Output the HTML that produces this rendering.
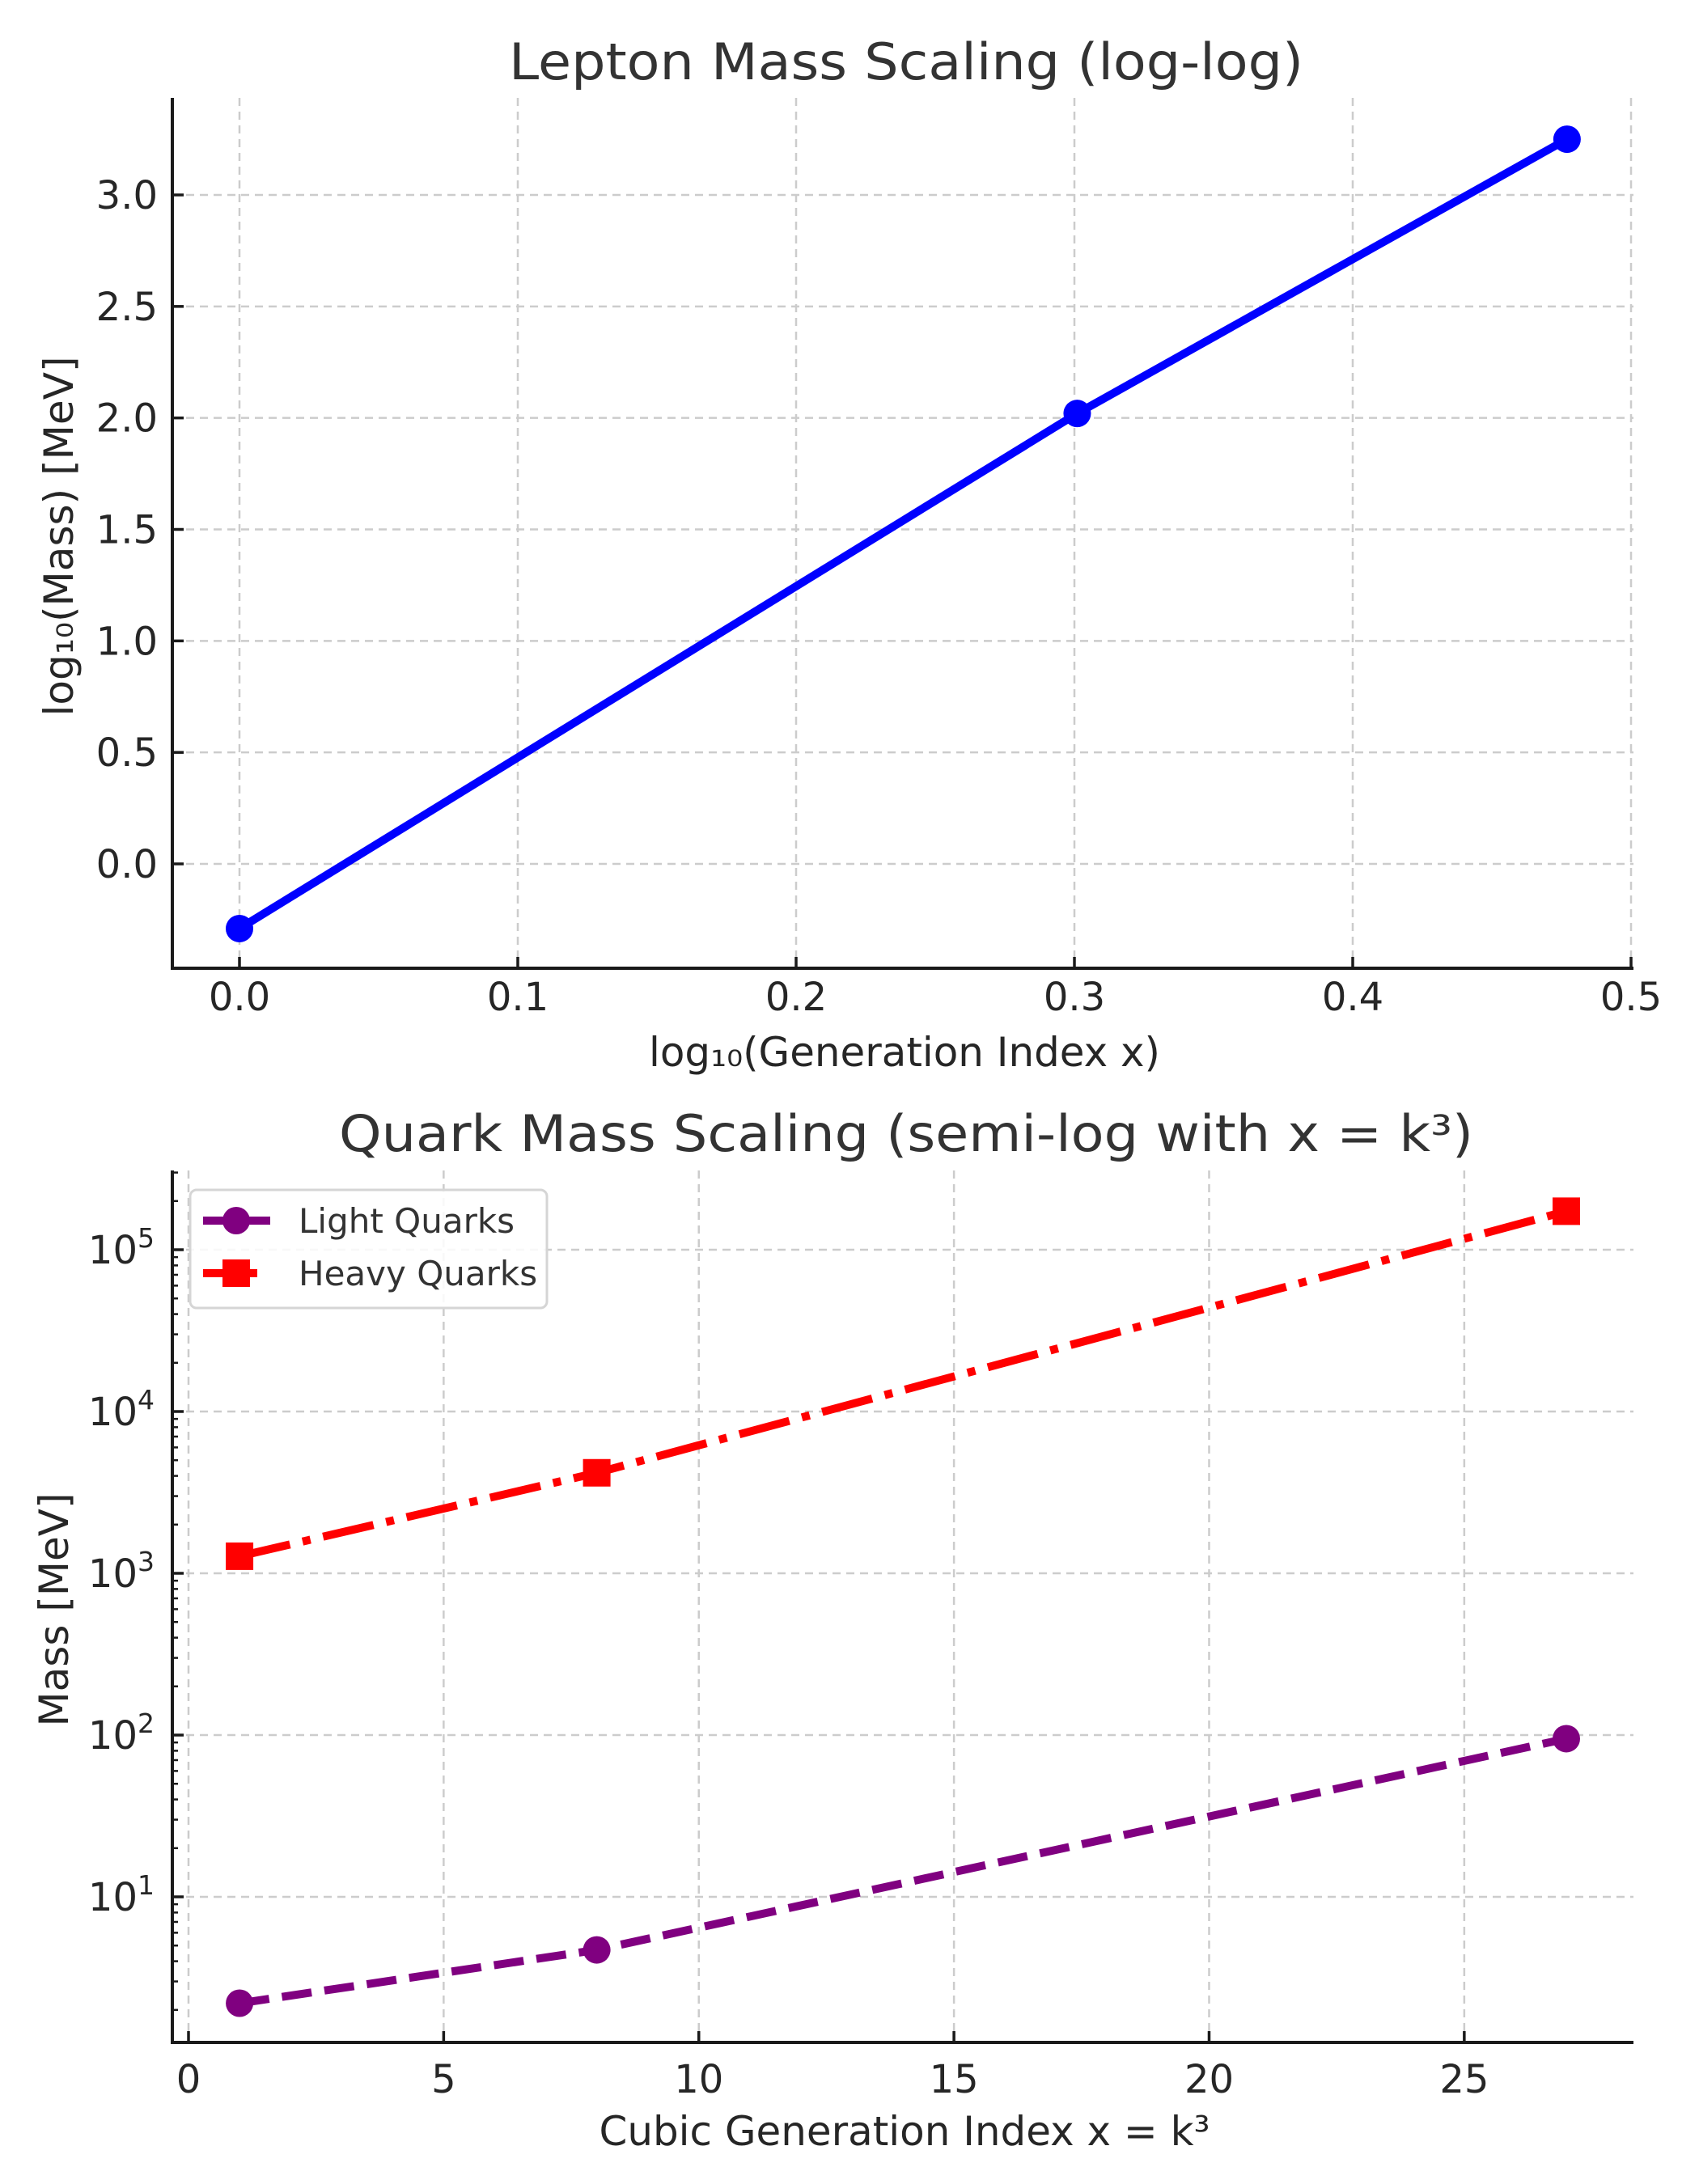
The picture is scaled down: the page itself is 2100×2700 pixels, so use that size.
<!DOCTYPE html>
<html><head><meta charset="utf-8"><style>
html,body{margin:0;padding:0;background:#fff;}
svg{display:block;font-family:"DejaVu Sans","Liberation Sans",sans-serif;}
</style></head><body>
<svg id="chart" width="2100" height="2700" viewBox="0 0 2100 2700" xmlns="http://www.w3.org/2000/svg">
<g id="topChart"></g>
<g id="botChart"></g>
</svg>
<script>
// Lepton data
const leptonX = [0, 0.301, 0.477];
const leptonY = [-0.29, 2.02, 3.25];
const topXTicks = [0, 0.1, 0.2, 0.3, 0.4, 0.5];
const topXTickLabels = ["0.0","0.1","0.2","0.3","0.4","0.5"];
const topYTicks = [0, 0.5, 1, 1.5, 2, 2.5, 3];
const topYTickLabels = ["0.0","0.5","1.0","1.5","2.0","2.5","3.0"];
// Quark data
const quarkX = [1, 8, 27];
const lightQuarks = [2.2, 4.7, 95];
const heavyQuarks = [1275, 4180, 173000];
const botXTicks = [0, 5, 10, 15, 20, 25];
const botXTickLabels = ["0","5","10","15","20","25"];
const botYExp = [1, 2, 3, 4, 5];

const NS = "http://www.w3.org/2000/svg";
function mk(parent, tag, attrs, text){
  const e = document.createElementNS(NS, tag);
  for (const k in attrs) e.setAttribute(k, attrs[k]);
  if (text !== undefined) e.textContent = text;
  parent.appendChild(e);
  return e;
}
const TXT = "#262626";
const GRID = "#cccccc";

// ---------- TOP ----------
const topG = document.getElementById('topChart');
const tL = 213, tR = 2019, tT = 121, tB = 1197;
const tx = v => 296 + v * (2016 - 296) / 0.5;
const ty = v => 1068 - v * (1068 - 241) / 3;

topXTicks.forEach((v, i) => {
  const g = mk(topG, 'line', {x1: tx(v), x2: tx(v), y1: tT, y2: tB, stroke: GRID, 'stroke-width': 2.5, 'stroke-dasharray': '10 7'});
  
  
  const t = mk(topG, 'line', {x1: tx(v), x2: tx(v), y1: tB, y2: tB - 14, stroke: '#1a1a1a', 'stroke-width': 3.5});
  
  
  const l = mk(topG, 'text', {x: tx(v), y: 1249, 'font-size': 48, fill: TXT, 'text-anchor': 'middle'}, topXTickLabels[i]);
  
  
});
topYTicks.forEach((v, i) => {
  const g = mk(topG, 'line', {x1: tL, x2: tR, y1: ty(v), y2: ty(v), stroke: GRID, 'stroke-width': 2.5, 'stroke-dasharray': '10 7'});
  
  
  const t = mk(topG, 'line', {x1: tL, x2: tL + 14, y1: ty(v), y2: ty(v), stroke: '#1a1a1a', 'stroke-width': 3.5});
  
  
  const l = mk(topG, 'text', {x: 195, y: ty(v) + 17, 'font-size': 48, fill: TXT, 'text-anchor': 'end'}, topYTickLabels[i]);
  
  
});
let sp = mk(topG, 'path', {d: `M${tL},${tT} V${tB} H${tR}`, fill: 'none', stroke: '#1a1a1a', 'stroke-width': 4});


let pl = mk(topG, 'polyline', {points: leptonX.map((x, i) => tx(x) + ',' + ty(leptonY[i])).join(' '), fill: 'none', stroke: '#0000ff', 'stroke-width': 10, 'stroke-linejoin': 'round'});


leptonX.forEach((x, i) => {
  const c = mk(topG, 'circle', {cx: tx(x), cy: ty(leptonY[i]), r: 17, fill: '#0000ff'});
  
  
});
let tt = mk(topG, 'text', {x: 1120, y: 98, 'font-size': 62, fill: '#333', 'text-anchor': 'middle', textLength: 982, lengthAdjust: 'spacingAndGlyphs'}, 'Lepton Mass Scaling (log-log)');


let xl = mk(topG, 'text', {x: 1118, y: 1318, 'font-size': 50, fill: TXT, 'text-anchor': 'middle', textLength: 632, lengthAdjust: 'spacingAndGlyphs'}, 'log₁₀(Generation Index x)');


let yl = mk(topG, 'text', {x: 0, y: 0, 'font-size': 50, fill: TXT, 'text-anchor': 'middle', transform: 'translate(90,663) rotate(-90)', textLength: 445, lengthAdjust: 'spacingAndGlyphs'}, 'log₁₀(Mass) [MeV]');



// ---------- BOTTOM ----------
const botG = document.getElementById('botChart');
const bL = 213, bR = 2019, bT = 1447, bB = 2525;
const bx = v => 233 + v * (1936 - 233) / 27;
const by = v => 1545 - (Math.log10(v) - 5) * 200;

botXTicks.forEach((v, i) => {
  const g = mk(botG, 'line', {x1: bx(v), x2: bx(v), y1: bT, y2: bB, stroke: GRID, 'stroke-width': 2.5, 'stroke-dasharray': '10 7'});
  
  
  const t = mk(botG, 'line', {x1: bx(v), x2: bx(v), y1: bB, y2: bB - 14, stroke: '#1a1a1a', 'stroke-width': 3.5});
  
  
  const l = mk(botG, 'text', {x: bx(v), y: 2587, 'font-size': 48, fill: TXT, 'text-anchor': 'middle'}, botXTickLabels[i]);
  
  
});
for (let e = 0; e <= 5; e++) {
  for (let m = 2; m <= 9; m++) {
    const v = m * Math.pow(10, e);
    const y = by(v);
    if (y < bT || y > bB) continue;
    const t = mk(botG, 'line', {x1: bL, x2: bL + 7, y1: y, y2: y, stroke: '#1a1a1a', 'stroke-width': 2.5});
    
    
  }
}
botYExp.forEach(e => {
  const y = by(Math.pow(10, e));
  const g = mk(botG, 'line', {x1: bL, x2: bR, y1: y, y2: y, stroke: GRID, 'stroke-width': 2.5, 'stroke-dasharray': '10 7'});
  
  
  const t = mk(botG, 'line', {x1: bL, x2: bL + 14, y1: y, y2: y, stroke: '#1a1a1a', 'stroke-width': 3.5});
  
  
  const l = mk(botG, 'text', {x: 191, y: y + 17, 'font-size': 48, fill: TXT, 'text-anchor': 'end'});
  
  
  mk(l, 'tspan', {}, '10');
  mk(l, 'tspan', {dy: -20, 'font-size': 33}, String(e));
});
let sp2 = mk(botG, 'path', {d: `M${bL},${bT} V${bB} H${bR}`, fill: 'none', stroke: '#1a1a1a', 'stroke-width': 4});



let hl = mk(botG, 'polyline', {points: quarkX.map((x, i) => bx(x) + ',' + by(heavyQuarks[i])).join(' '), fill: 'none', stroke: '#ff0000', 'stroke-width': 10, 'stroke-dasharray': '64 16 10 16'});


let ll = mk(botG, 'polyline', {points: quarkX.map((x, i) => bx(x) + ',' + by(lightQuarks[i])).join(' '), fill: 'none', stroke: '#800080', 'stroke-width': 10, 'stroke-dasharray': '37 16'});


quarkX.forEach((x, i) => {
  const s = mk(botG, 'rect', {x: bx(x) - 17, y: by(heavyQuarks[i]) - 17, width: 34, height: 34, fill: '#ff0000'});
  
  
  const c = mk(botG, 'circle', {cx: bx(x), cy: by(lightQuarks[i]), r: 17, fill: '#800080'});
  
  
});

// legend
const lg = mk(botG, 'g', {});


let lb = mk(lg, 'rect', {x: 235, y: 1471, width: 441, height: 146, rx: 8, fill: 'rgba(255,255,255,0.85)', stroke: '#d5d5d5', 'stroke-width': 3});


const e1 = mk(lg, 'g', {});


mk(e1, 'line', {x1: 251, x2: 334, y1: 1509, y2: 1509, stroke: '#800080', 'stroke-width': 10});
mk(e1, 'circle', {cx: 292, cy: 1509, r: 17, fill: '#800080'});
mk(e1, 'text', {x: 369, y: 1524, 'font-size': 42, fill: '#333'}, 'Light Quarks');
const e2 = mk(lg, 'g', {});


mk(e2, 'line', {x1: 251, x2: 318, y1: 1574, y2: 1574, stroke: '#ff0000', 'stroke-width': 10});
mk(e2, 'rect', {x: 275, y: 1557, width: 34, height: 34, fill: '#ff0000'});
mk(e2, 'text', {x: 369, y: 1589, 'font-size': 42, fill: '#333'}, 'Heavy Quarks');

let bt = mk(botG, 'text', {x: 1120, y: 1423, 'font-size': 62, fill: '#333', 'text-anchor': 'middle', textLength: 1402, lengthAdjust: 'spacingAndGlyphs'}, 'Quark Mass Scaling (semi-log with x = k³)');


let bxl = mk(botG, 'text', {x: 1118, y: 2652, 'font-size': 50, fill: TXT, 'text-anchor': 'middle', textLength: 755, lengthAdjust: 'spacingAndGlyphs'}, 'Cubic Generation Index x = k³');


let byl = mk(botG, 'text', {x: 0, y: 0, 'font-size': 50, fill: TXT, 'text-anchor': 'middle', transform: 'translate(84,1990) rotate(-90)', textLength: 289, lengthAdjust: 'spacingAndGlyphs'}, 'Mass [MeV]');


</script>
</body></html>
